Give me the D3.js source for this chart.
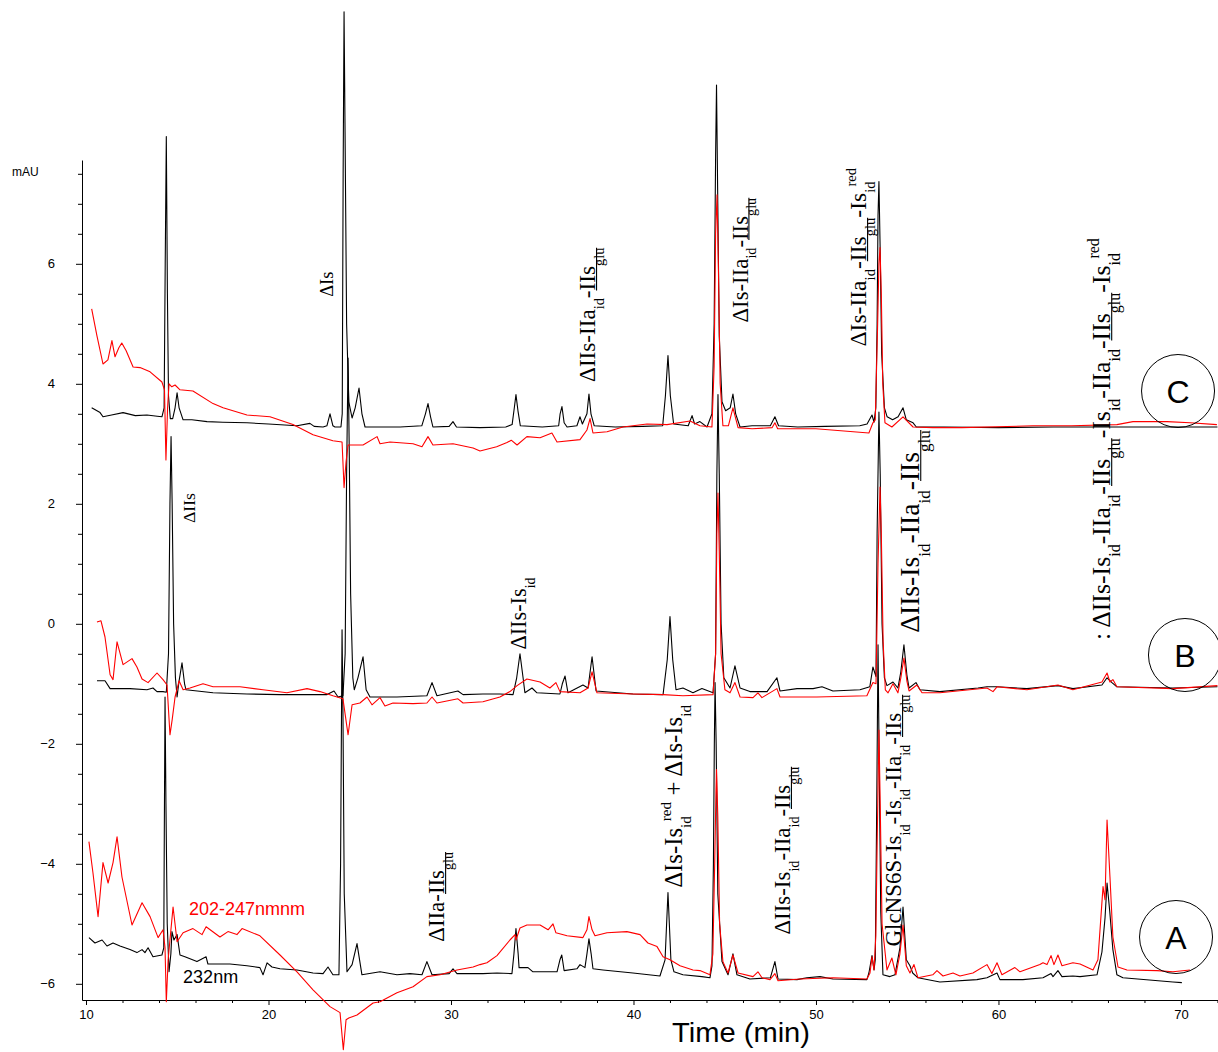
<!DOCTYPE html>
<html>
<head>
<meta charset="utf-8">
<script src="https://cdn.jsdelivr.net/npm/d3@7"></script>
<style>
  html, body { margin: 0; padding: 0; background: #fff; }
  svg { display: block; }
</style>
</head>
<body>
<svg id="chart" width="1218" height="1052"></svg>
<script>
// ---- Axis extents and ticks ----
const timeDomain = [9.78, 72.03];      // min
const mauDomain = [-6.27, 7.73];       // mAU
const xMajorTicks = [10, 20, 30, 40, 50, 60, 70];
const yMajorTicks = [-6, -4, -2, 0, 2, 4, 6];

// ---- Chromatograms: [time (min), absorbance (mAU)] ----
// Trace C, 232 nm
const cBlack = [
  [10.31,3.60],[10.77,3.52],[10.93,3.45],[11.4,3.48],[12.03,3.52],[12.7,3.47],[13.34,3.48],[13.9,3.46],[14.16,3.45],
  [14.28,3.6],[14.34,6.0],[14.40,8.12],[14.46,5.5],[14.52,3.8],[14.62,3.42],
  [14.75,3.42],[14.88,3.6],[14.99,3.85],[15.1,3.6],[15.32,3.40],[15.8,3.40],[16.63,3.37],[17.5,3.36],[18.82,3.35],
  [20.0,3.33],[21.56,3.30],[22.27,3.34],[22.5,3.29],[22.99,3.28],[23.2,3.30],[23.37,3.50],[23.53,3.30],[23.64,3.28],[23.97,3.28],
  [24.04,3.5],[24.09,7.5],[24.14,10.2],[24.2,8.0],[24.28,5.0],[24.4,3.7],[24.58,3.43],[24.75,3.6],[24.96,3.93],[25.12,3.5],
  [25.29,3.28],[26.11,3.28],[27.21,3.28],[28.4,3.30],[28.6,3.5],[28.74,3.67],[28.88,3.45],[29.01,3.28],[29.9,3.29],
  [30.11,3.37],[30.3,3.28],[31.59,3.27],[33.0,3.28],[33.35,3.32],[33.47,3.6],[33.56,3.82],[33.67,3.55],[33.8,3.3],
  [35.0,3.28],[35.9,3.3],[35.98,3.5],[36.08,3.62],[36.2,3.35],[36.36,3.28],[36.9,3.3],[37.07,3.45],[37.2,3.33],
  [37.45,3.5],[37.56,3.83],[37.67,3.5],[37.85,3.3],[39.0,3.28],[40.5,3.29],[41.6,3.3],[41.75,3.8],[41.89,4.47],
  [42.02,3.8],[42.2,3.33],[43.0,3.3],[43.21,3.47],[43.35,3.33],[43.64,3.37],[44.03,3.28],[44.3,3.5],
  [44.42,5.0],[44.5,7.8],[44.55,8.98],[44.62,7.0],[44.7,4.8],[44.85,3.7],[45.05,3.55],[45.3,3.6],[45.45,3.83],
  [45.6,3.5],[45.84,3.28],[46.5,3.3],[47.5,3.3],[47.75,3.45],[47.95,3.3],[49.0,3.28],[50.5,3.29],[52.4,3.3],
  [52.8,3.33],[53.07,3.48],[53.18,3.36],[53.28,3.6],
  [53.35,5.0],[53.40,6.8],[53.45,7.37],[53.52,6.2],[53.6,4.5],[53.75,3.6],[53.9,3.45],[54.2,3.4],[54.5,3.45],
  [54.77,3.6],[54.95,3.4],[55.32,3.35],[55.5,3.28],[57.0,3.28],[60.0,3.27],[63.0,3.28],[66.0,3.28],[69.0,3.28],[72.0,3.28]
];
// Trace C, 202-247 nm
const cRed = [
  [10.31,5.25],[10.6,4.8],[10.93,4.33],[11.2,4.4],[11.42,4.72],[11.59,4.45],[11.8,4.6],[11.96,4.68],[12.2,4.55],
  [12.58,4.28],[12.96,4.27],[13.51,4.2],[14.16,4.03],[14.3,3.9],
  [14.38,2.73],[14.47,3.6],[14.55,4.0],[14.7,3.95],[14.88,3.98],[15.15,3.9],[15.86,3.88],[16.96,3.67],[17.51,3.6],
  [18.82,3.48],[20.08,3.45],[21.34,3.32],[22.44,3.15],[23.53,3.05],[24.03,3.03],
  [24.14,2.27],[24.25,2.7],[24.36,2.98],[25.18,2.98],[25.95,3.12],[26.11,3.0],[26.66,3.03],[27.92,3.0],[28.41,2.95],
  [28.74,3.12],[29.01,2.98],[30.11,3.0],[31.21,2.93],[31.59,2.88],[32.5,2.95],[33.07,3.02],[33.3,3.06],[33.62,2.98],
  [34.16,3.12],[34.88,3.1],[35.53,3.18],[35.81,3.03],[37.07,3.07],[37.45,3.23],[37.62,3.42],[37.78,3.18],[38.55,3.2],
  [39.42,3.28],[40.74,3.33],[41.84,3.32],[43.1,3.38],[43.64,3.3],[44.3,3.28],
  [44.42,4.3],[44.5,6.5],[44.58,7.15],[44.65,6.0],[44.75,4.0],[44.9,3.3],[45.2,3.3],[45.45,3.6],[45.73,3.27],
  [46.5,3.25],[47.6,3.27],[47.75,3.35],[47.9,3.25],[50.0,3.25],[52.9,3.18],[53.12,3.35],[53.25,3.4],
  [53.38,5.0],[53.45,6.0],[53.51,6.27],[53.58,5.5],[53.66,4.0],[53.78,3.35],[54.16,3.28],[54.77,3.45],[55.32,3.28],
  [56.4,3.27],[58.0,3.27],[61.89,3.3],[64.0,3.3],[66.49,3.32],[67.37,3.37],[68.0,3.37],[69.23,3.37],[70.5,3.35],[71.97,3.32]
];
// Trace B, 232 nm
const bBlack = [
  [10.60,-0.95],[11.04,-0.95],[11.32,-1.08],[11.7,-1.08],[12.41,-1.08],[13.34,-1.1],[13.67,-1.07],[13.89,-1.13],
  [14.22,-1.13],[14.4,-1.14],
  [14.52,-0.5],[14.6,2.0],[14.66,3.12],[14.72,2.0],[14.8,0.0],[14.9,-0.9],[14.99,-1.22],[15.1,-0.95],[15.26,-0.65],
  [15.4,-1.0],[15.48,-1.1],[16.96,-1.15],[18.82,-1.17],[20.63,-1.18],[22.44,-1.18],[23.21,-1.18],[23.59,-1.12],
  [23.81,-1.22],[24.08,-1.2],
  [24.2,-0.5],[24.28,2.5],[24.36,4.43],[24.42,3.0],[24.5,0.5],[24.62,-0.9],[24.7,-1.1],[24.9,-0.9],[25.18,-0.55],
  [25.35,-1.1],[25.56,-1.22],[27.04,-1.22],[28.68,-1.2],[28.96,-0.98],[29.23,-1.2],[30.38,-1.12],[30.66,-1.18],
  [31.75,-1.17],[32.68,-1.17],[33.4,-1.18],[33.6,-0.9],[33.78,-0.5],[33.95,-0.9],[34.05,-1.15],[34.44,-1.07],
  [34.71,-1.15],[35.97,-1.17],[36.1,-1.0],[36.25,-0.87],[36.41,-1.15],[37.23,-1.02],[37.51,-1.07],[37.73,-0.55],
  [37.95,-1.12],[39.97,-1.17],[41.62,-1.18],[41.85,-0.6],[42.0,0.12],[42.15,-0.6],[42.33,-1.1],[42.71,-1.07],
  [43.26,-1.15],[43.75,-1.08],[44.36,-1.15],
  [44.5,-0.5],[44.57,2.5],[44.63,3.82],[44.7,2.5],[44.8,0.0],[44.95,-0.9],[45.29,-1.07],[45.56,-0.7],[45.84,-1.07],
  [46.38,-1.13],[47.32,-1.13],[47.86,-0.9],[48.03,-1.12],[48.96,-1.08],[49.84,-1.08],[50.33,-1.05],[50.93,-1.12],
  [52.41,-1.1],[52.95,-1.05],[53.12,-0.72],[53.29,-0.88],
  [53.35,1.5],[53.45,3.53],[53.52,2.5],[53.62,0.0],[53.75,-0.9],[53.89,-1.03],[54.22,-0.97],[54.49,-1.07],[54.65,-0.8],
  [54.82,-0.35],[54.98,-0.85],[55.1,-1.07],[55.48,-0.98],[55.7,-1.1],[56.79,-1.13],[58.88,-1.07],[59.37,-1.05],
  [59.92,-1.05],[61.56,-1.08],[63.26,-1.03],[64.08,-1.08],[65.67,-1.02],[65.95,-0.9],[66.22,-0.98],[66.49,-1.05],
  [69.56,-1.07],[72.0,-1.05]
];
// Trace B, 202-247 nm
const bRed = [
  [10.60,0.03],[10.82,0.05],[11.04,-0.22],[11.32,-0.85],[11.48,-0.93],[11.70,-0.3],[12.03,-0.68],[12.52,-0.58],
  [12.79,-0.72],[13.07,-0.92],[13.40,-0.98],[13.89,-0.82],[14.22,-0.93],[14.44,-1.02],
  [14.6,-1.85],[14.72,-1.6],[14.88,-1.22],[15.1,-0.95],[15.32,-1.1],[15.7,-1.07],[16.41,-1.0],[16.96,-1.05],
  [18.44,-1.05],[19.7,-1.1],[21.01,-1.15],[22.11,-1.08],[22.82,-1.13],[23.53,-1.2],[24.08,-1.25],
  [24.36,-1.85],[24.58,-1.35],[25.01,-1.32],[25.40,-1.22],[25.67,-1.35],[26.11,-1.23],[26.38,-1.37],[26.82,-1.32],
  [27.92,-1.33],[28.68,-1.32],[28.96,-1.22],[29.23,-1.32],[30.38,-1.25],[30.66,-1.32],[31.75,-1.3],[32.68,-1.22],
  [33.23,-1.13],[33.62,-1.03],[34.16,-0.92],[34.88,-0.97],[35.42,-1.07],[35.75,-0.98],[35.97,-1.13],[37.07,-1.15],
  [37.51,-1.07],[37.73,-0.8],[38.0,-1.15],[39.97,-1.17],[41.62,-1.18],[42.71,-1.2],[44.36,-1.18],
  [44.5,-0.5],[44.57,1.5],[44.63,2.18],[44.7,1.2],[44.8,-0.5],[45.01,-1.1],[45.29,-1.15],[45.56,-0.98],[45.84,-1.22],
  [46.55,-1.23],[46.82,-1.15],[47.04,-1.23],[47.86,-1.08],[48.03,-1.22],[50.05,-1.22],[52.79,-1.2],[53.12,-0.98],
  [53.29,-1.0],
  [53.4,1.0],[53.51,2.28],[53.58,1.5],[53.68,-0.3],[53.8,-1.1],[53.95,-1.15],[54.22,-1.0],[54.49,-1.15],[54.65,-0.9],
  [54.82,-0.57],[54.98,-0.95],[55.1,-1.12],[55.53,-1.02],[55.81,-1.15],[56.79,-1.15],[59.37,-1.07],[59.70,-1.13],
  [59.92,-1.05],[61.56,-1.1],[63.26,-1.02],[64.08,-1.1],[65.67,-0.97],[65.95,-0.82],[66.11,-0.97],[66.27,-0.93],
  [66.49,-1.05],[69.56,-1.08],[72.0,-1.03]
];
// Trace A, 232 nm
const aBlack = [
  [10.16,-5.23],[10.49,-5.32],[10.88,-5.27],[11.15,-5.37],[11.48,-5.32],[11.86,-5.37],[12.41,-5.43],[12.79,-5.48],
  [13.07,-5.43],[13.23,-5.48],[13.40,-5.4],[13.67,-5.55],[14.16,-5.52],[14.26,-5.4],
  [14.29,-3.5],[14.33,-1.22],[14.38,-3.0],[14.45,-5.0],[14.55,-5.8],[14.65,-5.5],[14.71,-5.13],[14.82,-5.27],
  [14.99,-5.18],[15.15,-5.52],[15.42,-5.55],[16.08,-5.63],[16.58,-5.55],[16.68,-5.67],[17.89,-5.67],[18.82,-5.7],
  [19.53,-5.73],[19.70,-5.85],[19.92,-5.65],[20.19,-5.72],[20.63,-5.75],[21.56,-5.77],[22.44,-5.82],[22.99,-5.83],
  [23.26,-5.72],[23.53,-5.85],[23.86,-5.85],
  [23.95,-4.0],[24.0,-1.5],[24.03,-0.1],[24.08,-1.5],[24.15,-4.5],[24.3,-5.8],[24.58,-5.68],[24.85,-5.33],
  [25.12,-5.85],[26.11,-5.8],[27.04,-5.85],[27.75,-5.83],[28.41,-5.85],[28.68,-5.63],[28.96,-5.85],[29.9,-5.83],
  [30.11,-5.75],[30.33,-5.83],[31.75,-5.83],[32.52,-5.82],[33.34,-5.83],[33.45,-5.5],[33.56,-5.08],[33.68,-5.5],
  [33.73,-5.73],[34.22,-5.73],[34.49,-5.8],[35.81,-5.8],[35.97,-5.6],[36.07,-5.52],[36.2,-5.78],[36.9,-5.75],
  [37.07,-5.68],[37.34,-5.73],[37.45,-5.5],[37.56,-5.25],[37.68,-5.5],[37.78,-5.75],[38.33,-5.77],[39.97,-5.82],
  [41.45,-5.87],[41.73,-5.6],[41.89,-4.48],[42.05,-5.6],[42.22,-5.8],[42.71,-5.85],[43.75,-5.88],[44.19,-5.9],
  [44.3,-5.7],
  [44.38,-4.0],[44.43,-2.0],[44.47,-0.98],[44.53,-2.0],[44.62,-4.5],[44.85,-5.63],[45.18,-5.85],[45.45,-5.5],
  [45.67,-5.85],[46.38,-5.92],[47.5,-5.9],[47.75,-5.63],[47.92,-5.92],[48.96,-5.93],[49.5,-5.9],[50.22,-5.88],
  [50.93,-5.92],[52.79,-5.93],[52.9,-5.82],[53.07,-5.53],[53.18,-5.77],[53.25,-5.6],
  [53.33,-3.0],[53.40,-0.35],[53.47,-2.5],[53.55,-4.8],[53.67,-5.85],[54.05,-5.88],[54.33,-5.85],[54.6,-5.4],
  [54.77,-4.72],[54.95,-5.6],[55.15,-5.7],[55.3,-5.82],[55.59,-5.9],[56.79,-5.97],[58.82,-5.93],[59.37,-5.9],
  [59.92,-5.82],[60.08,-5.93],[61.34,-5.93],[62.44,-5.9],[62.88,-5.83],[62.99,-5.88],[63.26,-5.78],[63.48,-5.88],
  [64.08,-5.87],[64.47,-5.88],[65.40,-5.85],[65.67,-5.47],[65.84,-4.9],[65.95,-4.32],[66.1,-4.8],[66.27,-5.43],
  [66.49,-5.85],[66.82,-5.9],[69.56,-5.97],[70.05,-5.98]
];
// Trace A, 202-247 nm
const aRed = [
  [10.16,-3.63],[10.38,-4.15],[10.66,-4.88],[10.93,-3.98],[11.21,-4.32],[11.48,-3.98],[11.70,-3.55],[11.97,-4.22],
  [12.52,-5.02],[13.07,-4.65],[13.51,-4.88],[13.95,-5.23],[14.22,-5.1],[14.33,-5.4],
  [14.4,-6.3],[14.5,-5.6],[14.55,-5.43],[14.77,-4.72],[14.99,-5.3],[15.32,-5.15],[15.86,-5.08],[16.36,-5.18],
  [16.58,-5.05],[17.34,-5.22],[17.78,-5.13],[18.27,-5.18],[18.55,-5.08],[19.53,-5.2],[20.63,-5.52],[21.56,-5.8],
  [22.44,-6.1],[23.37,-6.38],[23.92,-6.48],
  [24.1,-7.1],[24.25,-6.6],[24.4,-6.57],[24.85,-6.52],[25.73,-6.32],[26.11,-6.3],[27.04,-6.15],[27.92,-6.05],
  [28.68,-5.88],[29.4,-5.85],[30.33,-5.77],[31.21,-5.72],[31.59,-5.68],[31.97,-5.65],[32.52,-5.53],[33.23,-5.27],
  [33.51,-5.18],[33.56,-5.27],[33.78,-5.07],[34.16,-5.02],[34.88,-5.02],[35.32,-5.1],[35.59,-5.0],[35.75,-5.15],
  [36.36,-5.2],[37.23,-5.23],[37.45,-5.1],[37.56,-4.88],[37.73,-5.1],[37.89,-5.2],[38.55,-5.15],[39.64,-5.13],
  [40.36,-5.18],[40.79,-5.32],[41.29,-5.38],[41.62,-5.55],[42.0,-5.6],[42.55,-5.7],[43.26,-5.77],[43.64,-5.78],
  [44.19,-5.85],[44.35,-5.5],
  [44.45,-4.0],[44.52,-2.8],[44.55,-2.43],[44.62,-3.2],[44.72,-5.0],[44.9,-5.63],[45.18,-5.82],[45.45,-5.52],
  [45.73,-5.82],[46.55,-5.88],[46.82,-5.8],[47.04,-5.9],[47.48,-5.93],[47.75,-5.83],[47.92,-5.95],[49.12,-5.92],
  [50.93,-5.9],[52.79,-5.92],[52.96,-5.82],[53.07,-5.55],[53.18,-5.77],[53.28,-5.2],
  [53.36,-3.5],[53.45,-1.77],[53.52,-3.0],[53.62,-5.0],[53.89,-5.77],[54.16,-5.57],[54.38,-5.85],[54.6,-5.5],
  [54.77,-5.02],[54.95,-5.7],[55.15,-5.82],[55.37,-5.68],[55.59,-5.9],[56.4,-5.85],[56.63,-5.78],[56.96,-5.87],
  [57.51,-5.82],[57.89,-5.87],[58.6,-5.82],[59.37,-5.68],[59.64,-5.83],[59.92,-5.65],[60.19,-5.85],[60.9,-5.73],
  [61.18,-5.8],[62.27,-5.68],[62.44,-5.65],[62.66,-5.68],[62.88,-5.53],[63.04,-5.68],[63.26,-5.52],[63.48,-5.7],
  [64.08,-5.65],[64.47,-5.67],[65.18,-5.77],[65.45,-5.6],[65.73,-4.38],[65.84,-4.6],[65.95,-3.27],[66.11,-4.22],
  [66.27,-5.22],[66.55,-5.72],[67.04,-5.77],[68.68,-5.78],[69.56,-5.8],[70.49,-5.77]
];

// ---- Peak annotations (markup: _{sub}, ^{sup}, [underlined]) ----
// t = time of the text baseline, from/to = mAU extent of the rotated text
const peakLabels = [
  { text: "ΔIs", t: 23.53, from: 5.45, to: 5.87 },
  { text: "ΔIIs-IIa_{id}-[IIs_{glu}]", t: 37.9, from: 4.03, to: 6.27 },
  { text: "ΔIs-IIa_{id}-[IIs_{glu}]", t: 46.25, from: 5.02, to: 7.1 },
  { text: "ΔIs-IIa_{id}-[IIs_{glu}]-Is_{id}^{red}", t: 52.75, from: 4.62, to: 7.6 },
  { text: ": ΔIIs-Is_{id}-IIa_{id}-[IIs_{glu}]-Is_{id}-IIa_{id}-[IIs_{glu}]-Is_{id}^{red}", t: 66.12, from: -0.27, to: 6.43 },
  { text: "ΔIIs", t: 15.97, from: 1.68, to: 2.18 },
  { text: "ΔIIs-Is_{id}", t: 34.12, from: -0.43, to: 0.77 },
  { text: "ΔIIs-Is_{id}-IIa_{id}-[IIs_{glu}]", t: 55.65, from: -0.15, to: 3.23 },
  { text: "ΔIIa-[IIs_{glu}]", t: 29.63, from: -5.3, to: -3.8 },
  { text: "ΔIs-Is_{id}^{red} + ΔIs-Is_{id}", t: 42.65, from: -4.4, to: -1.35 },
  { text: "ΔIIs-Is_{id}-IIa_{id}-[IIs_{glu}]", t: 48.58, from: -5.18, to: -2.38 },
  { text: "GlcNS6S-Is_{id}-Is_{id}-IIa_{id}-[IIs_{glu}]", t: 54.67, from: -5.38, to: -1.18 }
];

// ---- Sample markers and wavelength labels ----
const sampleMarks = [
  { name: "C", t: 69.84, v: 3.88 },
  { name: "B", t: 70.22, v: -0.52 },
  { name: "A", t: 69.73, v: -5.22 }
];
const wavelengthLabels = [
  { text: "202-247nmnm", t: 15.64, v: -4.85, color: "#ff0000" },
  { text: "232nm", t: 15.32, v: -5.98, color: "#000000" }
];

// ================= drawing =================
const svg = d3.select("#chart");
const x = d3.scaleLinear().domain(timeDomain).range([82, 1218]);
const y = d3.scaleLinear().domain(mauDomain).range([1000, 160]);

const sans = "'Liberation Sans', Arial, Helvetica, sans-serif";
const serif = "'Liberation Serif', 'Times New Roman', Times, serif";

// Axes
const xMinor = d3.range(10, 72.01, 2).filter(v => xMajorTicks.indexOf(v) < 0);
const yMinor = d3.range(-6, 7.51, 0.5).filter(v => yMajorTicks.indexOf(v) < 0);

const gx = svg.append("g").attr("transform", "translate(0,1000)");
gx.call(d3.axisBottom(x).tickValues(xMajorTicks).tickSize(5).tickSizeOuter(0).tickPadding(5).tickFormat(d3.format("d")));
gx.append("g").call(d3.axisBottom(x).tickValues(xMinor).tickSize(3).tickSizeOuter(0).tickFormat(""))
  .select(".domain").remove();

const gy = svg.append("g").attr("transform", "translate(82,0)");
gy.call(d3.axisLeft(y).tickValues(yMajorTicks).tickSize(6).tickSizeOuter(0).tickPadding(21).tickFormat(d3.format("d")));
gy.append("g").call(d3.axisLeft(y).tickValues(yMinor).tickSize(4).tickSizeOuter(0).tickFormat(""))
  .select(".domain").remove();

svg.selectAll(".tick text").attr("font-family", sans).attr("font-size", 13).attr("fill", "#000");
svg.selectAll(".domain, .tick line").attr("stroke", "#000").attr("stroke-width", 1);

svg.append("text").attr("x", 12).attr("y", 176).attr("font-family", sans).attr("font-size", 12)
  .text("mAU");

svg.append("text").attr("x", 741).attr("y", 1042).attr("text-anchor", "middle")
  .attr("font-family", sans).attr("font-size", 28)
  .attr("textLength", 138).attr("lengthAdjust", "spacingAndGlyphs")
  .text("Time (min)");

// Traces
const line = d3.line().x(d => x(d[0])).y(d => y(d[1]));
const traces = svg.append("g").attr("fill", "none").attr("stroke-linejoin", "round");
[cBlack, bBlack, aBlack].forEach(s =>
  traces.append("path").attr("d", line(s)).attr("stroke", "#000").attr("stroke-width", 1.1));
[cRed, bRed, aRed].forEach(s =>
  traces.append("path").attr("d", line(s)).attr("stroke", "#ff0000").attr("stroke-width", 1.1));

// Wavelength labels
wavelengthLabels.forEach(l => {
  svg.append("text").attr("x", x(l.t)).attr("y", y(l.v)).attr("font-family", sans)
    .attr("font-size", 18).attr("fill", l.color).text(l.text);
});

// Sample markers
sampleMarks.forEach(m => {
  svg.append("circle").attr("cx", x(m.t)).attr("cy", y(m.v)).attr("r", 36.5)
    .attr("fill", "none").attr("stroke", "#000").attr("stroke-width", 1);
  svg.append("text").attr("x", x(m.t)).attr("y", y(m.v) + 11.5).attr("text-anchor", "middle")
    .attr("font-family", sans).attr("font-size", 32).text(m.name);
});

// Peak labels: parse the small markup into runs
function parseMarkup(str) {
  const segs = [];
  let under = false, buf = "";
  const flush = () => { if (buf) { segs.push({ text: buf, kind: "n", u: under }); buf = ""; } };
  for (let i = 0; i < str.length; i++) {
    const c = str[i];
    if (c === "[") { flush(); under = true; }
    else if (c === "]") { flush(); under = false; }
    else if ((c === "_" || c === "^") && str[i + 1] === "{") {
      flush();
      const end = str.indexOf("}", i);
      segs.push({ text: str.slice(i + 2, end), kind: c === "_" ? "sub" : "sup", u: under });
      i = end;
    } else buf += c;
  }
  flush();
  return segs;
}

const annot = svg.append("g").attr("font-family", serif).attr("fill", "#000");

function renderLabel(lbl, size) {
  const g = annot.append("g")
    .attr("transform", `translate(${x(lbl.t)},${y(lbl.from)}) rotate(-90)`);
  let cur = 0, lastSub = null;
  const spans = [];
  parseMarkup(lbl.text).forEach(s => {
    const fs = s.kind === "n" ? size : size * 0.62;
    const dy = s.kind === "sub" ? size * 0.38 : s.kind === "sup" ? -size * 0.42 : 0;
    let x0 = cur;
    if (s.kind === "sup" && lastSub) x0 = lastSub.x0 + lastSub.w * 0.55;
    const t = g.append("text").attr("x", x0).attr("y", dy).attr("font-size", fs)
      .style("white-space", "pre").text(s.text);
    const w = t.node().getComputedTextLength();
    lastSub = s.kind === "sub" ? { x0, w } : (s.kind === "n" ? null : lastSub);
    cur = Math.max(cur, x0 + w);
    if (s.u) spans.push([x0, x0 + w]);
  });
  // merge adjacent underlined runs into single rules just under the baseline
  const rules = [];
  spans.forEach(sp => {
    const last = rules[rules.length - 1];
    if (last && sp[0] - last[1] < 1) last[1] = Math.max(last[1], sp[1]);
    else rules.push(sp.slice());
  });
  rules.forEach(r => g.append("line").attr("x1", r[0]).attr("x2", r[1])
    .attr("y1", size * 0.06).attr("y2", size * 0.06)
    .attr("stroke", "#000").attr("stroke-width", 1.1));
  return { g, len: cur };
}

peakLabels.forEach(lbl => {
  const target = y(lbl.from) - y(lbl.to);
  const probe = renderLabel(lbl, 20);
  const size = 20 * target / probe.len;
  probe.g.remove();
  renderLabel(lbl, size);
});
</script>
</body>
</html>
